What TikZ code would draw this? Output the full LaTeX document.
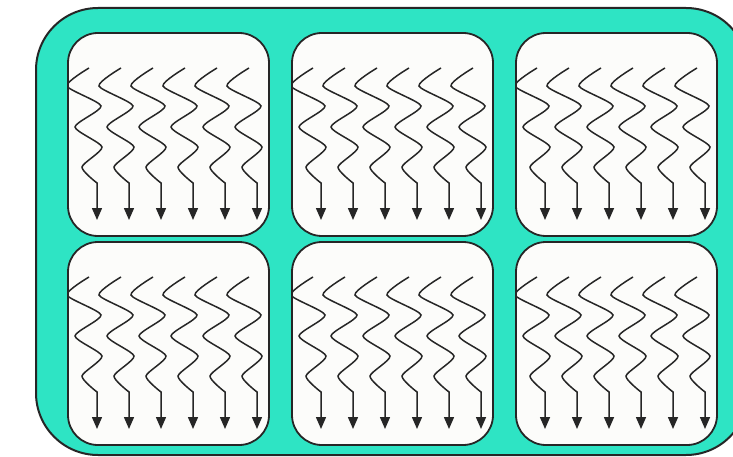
\documentclass[tikz,border=0pt]{standalone}
\usepackage{tikz}
\usetikzlibrary{arrows.meta,positioning}
\usepackage{xcolor}
\definecolor{smfill}{RGB}{46,228,196}
\definecolor{edge}{RGB}{38,38,38}
\definecolor{corefill}{RGB}{252,252,250}

\begin{document}
\begin{tikzpicture}[
    x=1pt,y=-1pt,node distance=6pt and 23pt,
    core/.style={draw=edge,line width=1.8pt,fill=corefill,rounded corners=30pt,
      minimum width=201pt,minimum height=203pt,inner sep=0pt,outer sep=0pt},
    thread/.style={draw=edge,line width=1.5pt,-{Triangle[length=12pt,width=10pt]}}
  ]
  \useasboundingbox (0,0) rectangle (733,457);
  % the multiprocessor
  \draw[fill=smfill,draw=edge,line width=2pt,rounded corners=62pt]
    (36,8) rectangle (748,455);
  % cores
  \node[core] (c1) at (168.5,134.5) {};
  \node[core] (c2) [right=of c1] {};
  \node[core] (c3) [right=of c2] {};
  \node[core] (c4) [below=of c1] {};
  \node[core] (c5) [below=of c2] {};
  \node[core] (c6) [below=of c3] {};
  % threads
  \foreach \c in {c1,c2,c3,c4,c5,c6} {
    \begin{scope}
      \clip[rounded corners=30pt] (\c.north west) rectangle (\c.south east);
      \begin{scope}[shift={(\c.north west)}]
        \foreach \k [evaluate=\k as \X using 29+32*\k] in {0,...,5}
          \draw[thread] plot[smooth,tension=0.4] coordinates {
              ({\X-8},35) ({\X-30},53) ({\X+4},73) ({\X-22},94)
              ({\X+5},114) ({\X-15},134) (\X,150)}
            -- (\X,187);
      \end{scope}
    \end{scope}
  }
\end{tikzpicture}
\end{document}
